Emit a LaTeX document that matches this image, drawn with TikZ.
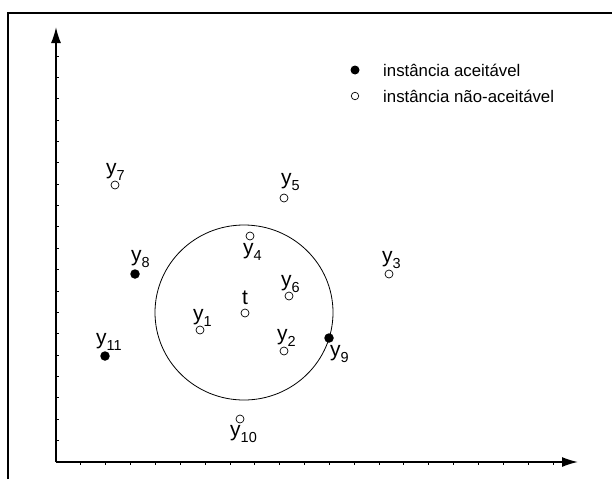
\documentclass[tikz,border=0pt]{standalone}
\usepackage{fontspec}
\setmainfont{Liberation Sans}
\usetikzlibrary{arrows.meta}
\newcommand{\ylab}[1]{\fontsize{21}{21}\selectfont y\raisebox{-6pt}{\fontsize{14.5}{14.5}\selectfont #1}}
\tikzset{
  frameline/.style={line width=1.4pt},
  axisline/.style={line width=1.6pt},
  tickmark/.style={line width=0.9pt},
  hollowpt/.style={circle,draw,line width=0.7pt,fill=white,minimum size=8pt,inner sep=0pt},
  filledpt/.style={circle,fill=black,minimum size=9.5pt,inner sep=0pt},
  lbl/.style={inner sep=0pt,anchor=base west},
  legtext/.style={inner sep=0pt,anchor=base west,font=\fontsize{16.8}{16.8}\selectfont}
}
\begin{document}
\begin{tikzpicture}[x=1pt,y=-1pt]
\useasboundingbox (0,0) rectangle (612,479);
% frame
\draw[frameline] (8,479) -- (8,13) -- (612,13);
% axes
\coordinate (O) at (56,462);
\coordinate (Ytop) at (56,27);
\coordinate (Xend) at (578,462);
\draw[axisline,-{Latex[length=16pt,width=10pt]}] (O) -- (Ytop);
\draw[axisline,-{Latex[length=16pt,width=10pt]}] (O) -- (Xend);
\foreach \k in {1,...,19} \draw[tickmark] (56,462-21.37*\k) -- ++(2.5,0);
\foreach \k in {1,...,20} \draw[tickmark] (56+24.85*\k,462) -- ++(0,2.5);
% big circle
\draw[line width=0.8pt] (244,312.5) ellipse [x radius=89, y radius=87.5];
% points
\node[hollowpt] (t) at (245,313) {};
\node[hollowpt] (p1) at (200,330) {};
\node[hollowpt] (p2) at (284,351) {};
\node[hollowpt] (p3) at (389,274) {};
\node[hollowpt] (p4) at (250,236) {};
\node[hollowpt] (p5) at (284,198) {};
\node[hollowpt] (p6) at (289,296) {};
\node[hollowpt] (p7) at (115,185) {};
\node[filledpt] (p8) at (135,274) {};
\node[filledpt] (p9) at (329,338) {};
\node[hollowpt] (p10) at (240,419) {};
\node[filledpt] (p11) at (105,356) {};
% labels
\node[inner sep=0pt,anchor=base,font=\fontsize{21}{21}\selectfont] (lt) at (245,304) {t};
\node[lbl] (l1) at (193,320) {\ylab{1}};
\node[lbl] (l2) at (277,340) {\ylab{2}};
\node[lbl] (l3) at (382,262) {\ylab{3}};
\node[lbl] (l4) at (243,254) {\ylab{4}};
\node[lbl] (l5) at (281,184) {\ylab{5}};
\node[lbl] (l6) at (281,286) {\ylab{6}};
\node[lbl] (l7) at (106,174) {\ylab{7}};
\node[lbl] (l8) at (131,261) {\ylab{8}};
\node[lbl] (l9) at (330,356) {\ylab{9}};
\node[lbl] (l10) at (230,436) {\ylab{10}};
\node[lbl] (l11) at (96,344) {\ylab{11}};
% legend
\node[filledpt,minimum size=9pt] (legf) at (355,70) {};
\node[hollowpt,minimum size=7.5pt] (legh) at (355,96) {};
\node[legtext] (legft) at (383,76) {instância aceitável};
\node[legtext] (leght) at (383,102) {instância não-aceitável};
\end{tikzpicture}
\end{document}
